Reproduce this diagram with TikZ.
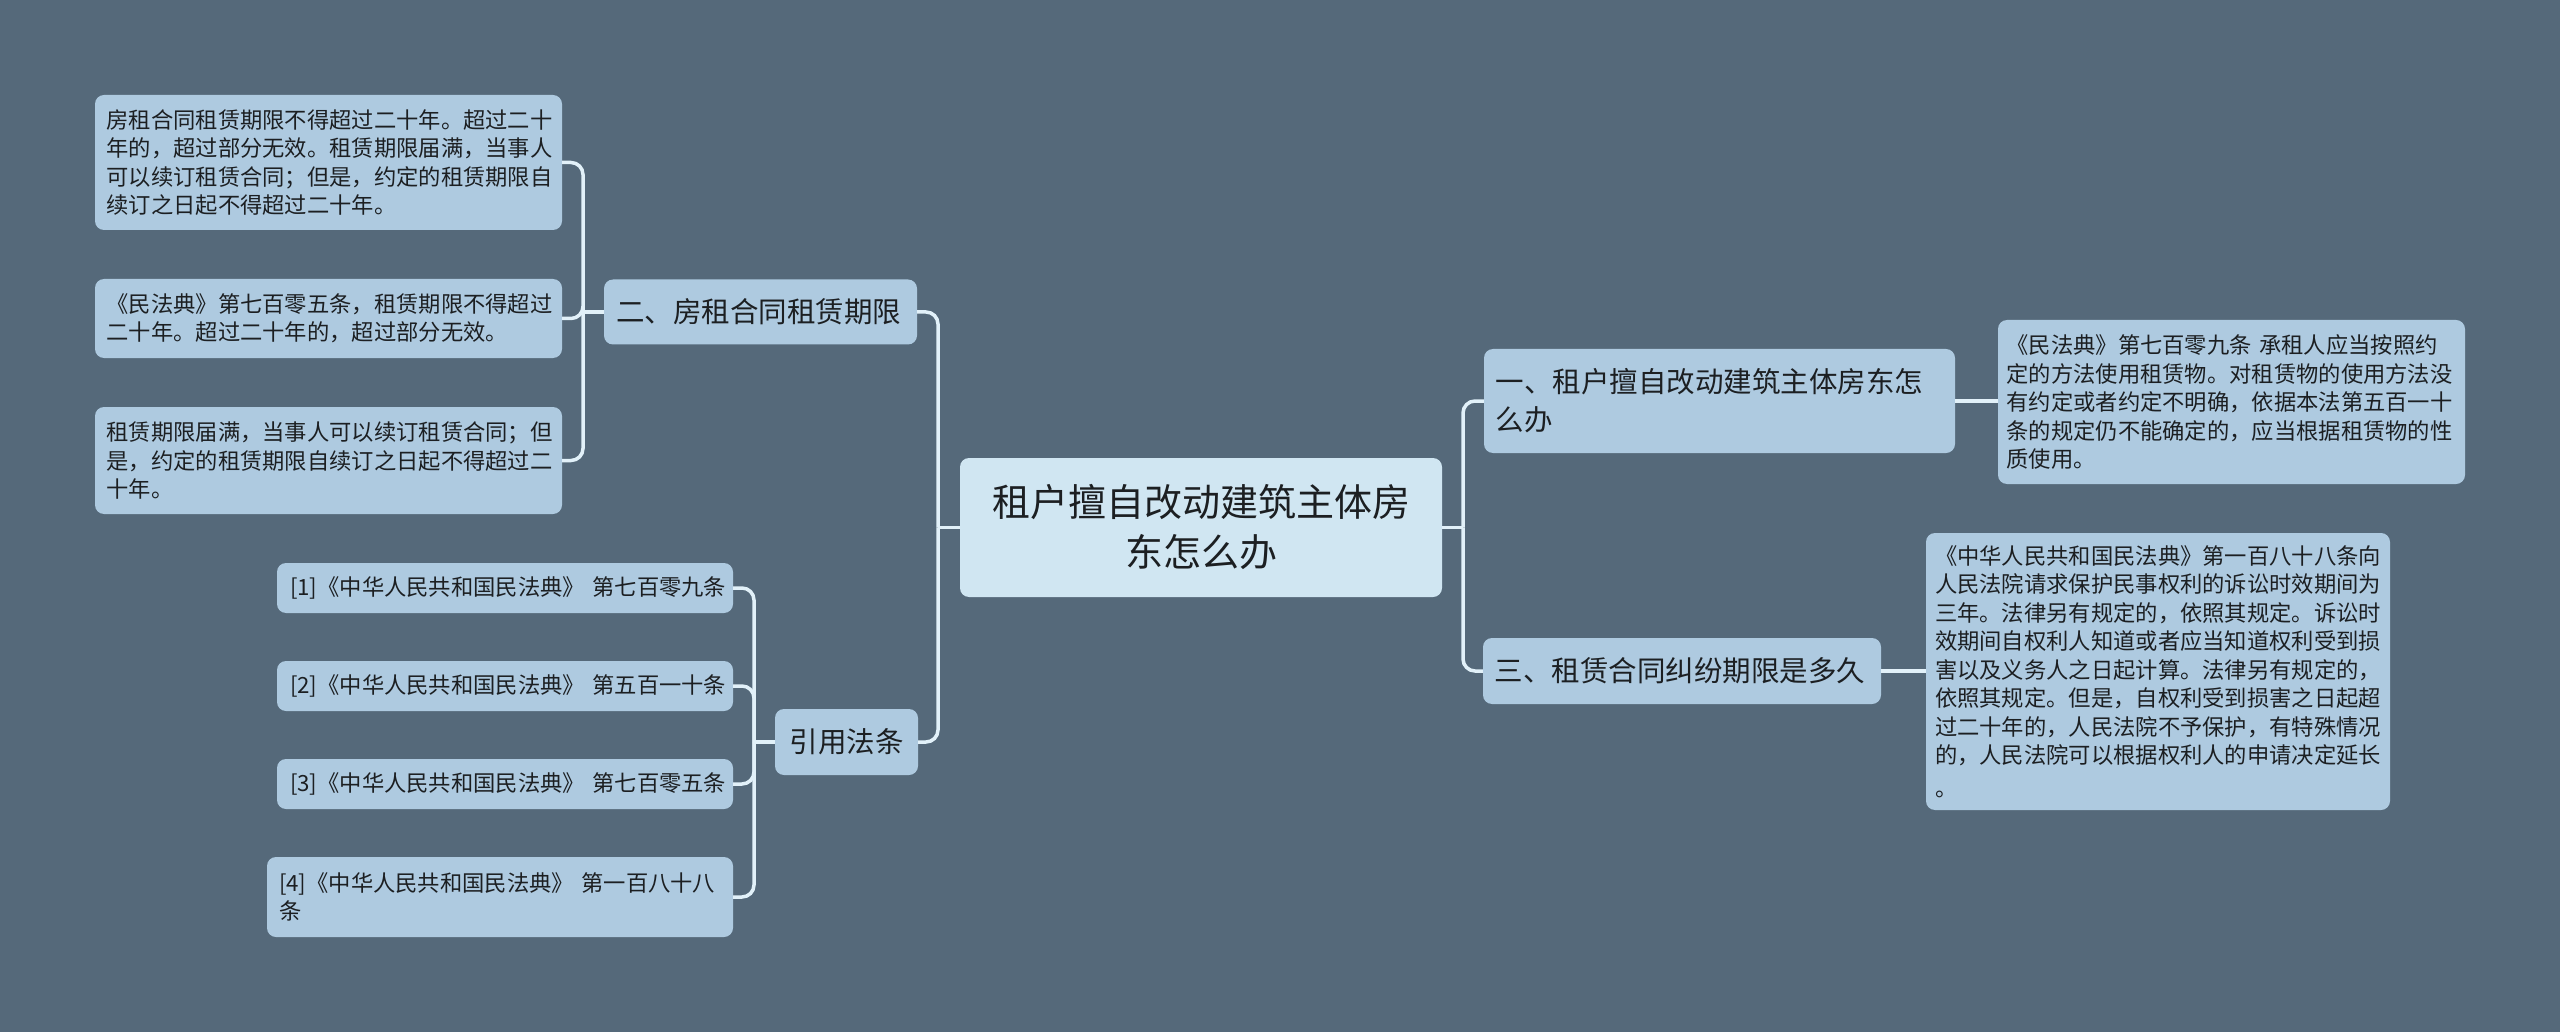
\documentclass[tikz,border=0pt]{standalone}
\usepackage{fontspec}
\setmainfont{Noto Sans CJK SC}
\definecolor{bgc}{HTML}{55697A}
\definecolor{nodec}{HTML}{AECAE0}
\definecolor{rootc}{HTML}{D0E6F2}
\definecolor{connc}{HTML}{E2F1F9}
\definecolor{txtc}{HTML}{1C1F22}
\tikzset{
  box/.style={rounded corners=9pt, fill=nodec, text=txtc, inner xsep=11.5pt, inner ysep=0pt, align=left, anchor=center},
  leaffont/.style={font=\fontsize{22.3}{28.5}\selectfont},
  midfont/.style={font=\fontsize{28.5}{38}\selectfont},
  conn/.style={draw=connc, line width=3.5pt, rounded corners=12pt},
}
\begin{document}
\begin{tikzpicture}[x=1pt,y=-1pt]
\fill[bgc] (0,0) rectangle (2560,1032);
\useasboundingbox (0,0) rectangle (2560,1032);

% root
\node[box, fill=rootc, align=center, font=\fontsize{38}{50}\selectfont, minimum width=482pt, minimum height=139pt, text width=440pt] (root) at (1201,527.5) {租户擅自改动建筑主体房\\东怎么办};

% level 1 left
\node[box, midfont, minimum width=313pt, minimum height=65pt, text width=289pt, inner xsep=12pt] (qx) at (760.5,312) {二、房租合同租赁期限};
\node[box, midfont, align=center, minimum width=143pt, minimum height=66pt, text width=119pt, inner xsep=12pt] (yy) at (846.5,742) {引用法条};

% level 1 right
\node[box, midfont, minimum width=471pt, minimum height=104pt, text width=448pt] (r1) at (1719.5,401) {一、租户擅自改动建筑主体房东怎\\么办};
\node[box, midfont, minimum width=398pt, minimum height=66pt, text width=375pt] (r2) at (1682,671) {三、租赁合同纠纷期限是多久};

% left leaves
\node[box, leaffont, minimum width=467pt, minimum height=135pt, text width=444pt] (la) at (328.5,162.5) {房租合同租赁期限不得超过二十年。超过二十\\年的，超过部分无效。租赁期限届满，当事人\\可以续订租赁合同；但是，约定的租赁期限自\\续订之日起不得超过二十年。};
\node[box, leaffont, minimum width=467pt, minimum height=79pt, text width=444pt] (lb) at (328.5,318.5) {《民法典》第七百零五条，租赁期限不得超过\\二十年。超过二十年的，超过部分无效。};
\node[box, leaffont, minimum width=467pt, minimum height=107pt, text width=444pt] (lc) at (328.5,460.5) {租赁期限届满，当事人可以续订租赁合同；但\\是，约定的租赁期限自续订之日起不得超过二\\十年。};

% citations
\node[box, leaffont, minimum width=456pt, minimum height=50pt, text width=430pt, inner xsep=13pt] (c1) at (505,588) {\mbox{[1]《中华人民共和国民法典》 第七百零九条}};
\node[box, leaffont, minimum width=456pt, minimum height=50pt, text width=430pt, inner xsep=13pt] (c2) at (505,686) {\mbox{[2]《中华人民共和国民法典》 第五百一十条}};
\node[box, leaffont, minimum width=456pt, minimum height=50pt, text width=430pt, inner xsep=13pt] (c3) at (505,784) {\mbox{[3]《中华人民共和国民法典》 第七百零五条}};
\node[box, leaffont, minimum width=466pt, minimum height=80pt, text width=442pt, inner xsep=12pt] (c4) at (500,897) {\mbox{[4]《中华人民共和国民法典》 第一百八十八}\\条};

% right leaves
\node[box, leaffont, minimum width=467pt, minimum height=164pt, text width=450pt, inner xsep=8.5pt] (ra) at (2231.5,402) {《民法典》第七百零九条 承租人应当按照约\\定的方法使用租赁物。对租赁物的使用方法没\\有约定或者约定不明确，依据本法第五百一十\\条的规定仍不能确定的，应当根据租赁物的性\\质使用。};
\node[box, leaffont, minimum width=464pt, minimum height=277pt, text width=446pt, inner xsep=9pt] (rb) at (2158,671.5) {《中华人民共和国民法典》第一百八十八条向\\人民法院请求保护民事权利的诉讼时效期间为\\三年。法律另有规定的，依照其规定。诉讼时\\效期间自权利人知道或者应当知道权利受到损\\害以及义务人之日起计算。法律另有规定的，\\依照其规定。但是，自权利受到损害之日起超\\过二十年的，人民法院不予保护，有特殊情况\\的，人民法院可以根据权利人的申请决定延长\\[4pt]。};

% junctions
\coordinate (jl) at (938,527.5);
\coordinate (jr) at (1463,527.5);
\coordinate (ja) at (583,312);
\coordinate (jc) at (754,742);

% connectors
\draw[conn] (root.west) -- (jl);
\draw[conn] (qx.east) -| (jl);
\draw[conn] (yy.east) -| (jl);
\draw[conn] (root.east) -- (jr);
\draw[conn] (r1.west) -| (jr);
\draw[conn] (r2.west) -| (jr);
\draw[conn] (qx.west) -- (ja);
\draw[conn] (la.east) -| (ja);
\draw[conn] (lb.east) -| (ja);
\draw[conn] (lc.east) -| (ja);
\draw[conn] (yy.west) -- (jc);
\draw[conn] (c1.east) -| (jc);
\draw[conn] (c2.east) -| (jc);
\draw[conn] (c3.east) -| (jc);
\draw[conn] (c4.east) -| (jc);
\draw[conn] (r1.east) -- (r1.east -| ra.west);
\draw[conn] (r2.east) -- (r2.east -| rb.west);
\end{tikzpicture}
\end{document}
